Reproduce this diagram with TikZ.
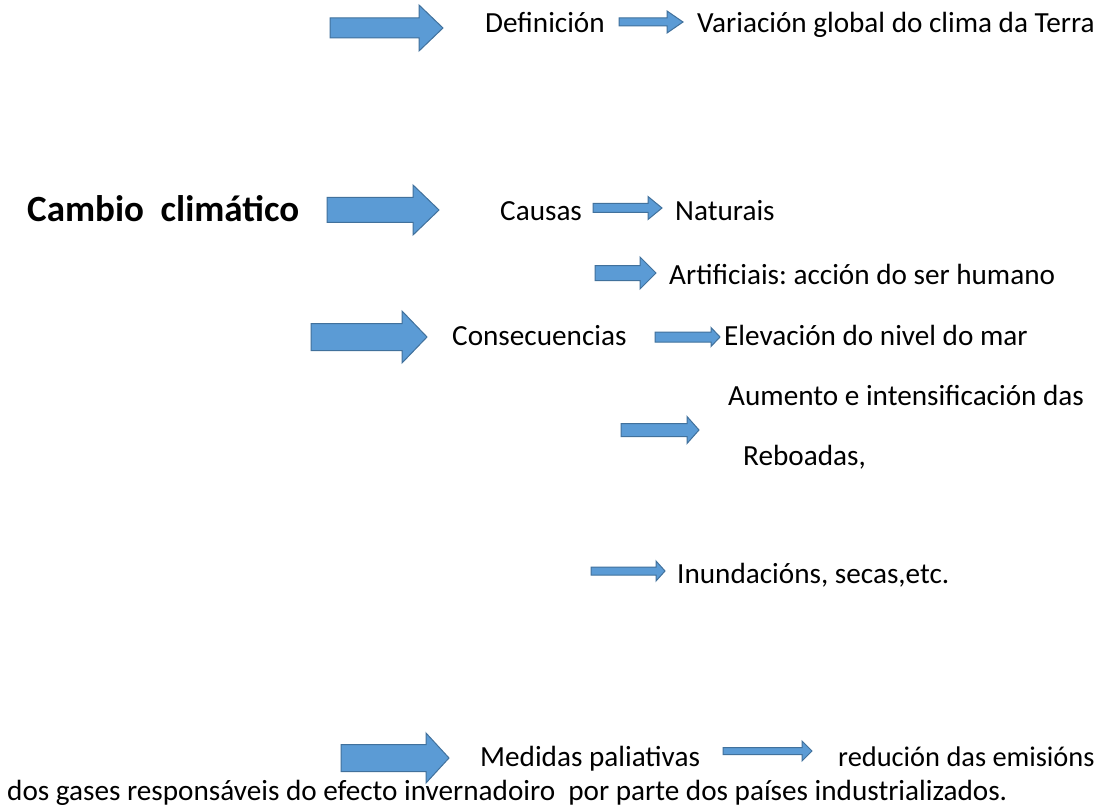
\documentclass[tikz,border=0pt]{standalone}
\usepackage{fontspec}
\setmainfont{Carlito}
\frenchspacing
\definecolor{arrfill}{HTML}{5B9BD5}
\definecolor{arrline}{HTML}{41719C}
\newcommand{\blockarr}[6]{%
  \draw[arrowshape] (#1,#4-#5) -- (#3,#4-#5) -- (#3,#4-#6) -- (#2,#4) -- (#3,#4+#6) -- (#3,#4+#5) -- (#1,#4+#5) -- cycle;}
\begin{document}
\begin{tikzpicture}[x=1pt,y=-1pt,
  arrowshape/.style={fill=arrfill,draw=arrline,line width=1pt,line join=miter},
  txt/.style={anchor=base west,inner sep=0pt,font=\fontsize{29.2}{35}\selectfont},
  bigtxt/.style={anchor=base west,inner sep=0pt,font=\fontsize{37}{44}\selectfont\bfseries}]
\useasboundingbox[fill=white] (0,0) rectangle (1110,810);
% texts
\node[txt] (def) at (485,33) {Definición};
\node[txt] (var) at (697,33) {Variación global do clima da Terra};
\node[bigtxt] (cambio) at (27,222) {Cambio\ \ climático};
\node[txt] (causas) at (500,221) {Causas};
\node[txt] (nat) at (675,221) {Naturais};
\node[txt] (art) at (669,284) {Artificiais: acción do ser humano};
\node[txt] (cons) at (452,345) {Consecuencias};
\node[txt] (elev) at (724,345) {Elevación do nivel do mar};
\node[txt] (aum) at (728,405) {Aumento e intensificación das};
\node[txt] (reb) at (743,465) {Reboadas,};
\node[txt] (inun) at (677,583) {Inundacións, secas,etc.};
\node[txt] (med) at (480,766) {Medidas paliativas};
\node[txt,font=\fontsize{28.4}{34}\selectfont] (red) at (838,766) {redución das emisións};
\node[txt] (gases) at (7,800) {dos gases responsáveis do efecto invernadoiro\ \ por parte dos países industrializados.};
% block arrows
\blockarr{330}{443}{419}{28}{10}{23}
\blockarr{619}{683}{667}{22}{4}{11}
\blockarr{327}{439}{413}{210}{12.5}{25}
\blockarr{593}{662}{648}{208}{4.5}{11.5}
\blockarr{595}{656}{640}{273}{7.5}{16}
\blockarr{311}{427}{402}{337}{13.5}{26}
\blockarr{655}{720}{711}{337}{5}{9.5}
\blockarr{621}{699}{687}{430}{6.5}{13.5}
\blockarr{591}{665}{656}{571}{4}{10}
\blockarr{341}{449}{426}{758}{13.5}{25}
\blockarr{723}{812}{802}{751}{3.5}{10}
\end{tikzpicture}
\end{document}
